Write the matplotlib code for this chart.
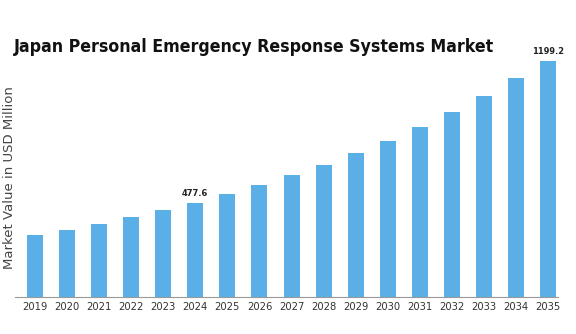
import matplotlib
matplotlib.use("Agg")
import matplotlib.pyplot as plt

# Data
years = ['2019', '2020', '2021', '2022', '2023', '2024', '2025', '2026', '2027',
         '2028', '2029', '2030', '2031', '2032', '2033', '2034', '2035']
values = [315, 340, 371, 406, 442, 477.6, 523, 569, 620,
          671, 732, 793, 864, 940, 1021, 1113, 1199.2]
labelled = {'2024': '477.6', '2035': '1199.2'}

bar_color = '#5ab0e6'

fig = plt.figure(figsize=(5.76, 3.34), dpi=100)
ax = fig.add_axes([0.026, 0.111, 0.943, 0.769])

x = list(range(len(years)))
ax.bar(x, values, width=0.5, color=bar_color)

for i, (yr, v) in enumerate(zip(years, values)):
    if yr in labelled:
        ax.text(i, v + 25, labelled[yr], ha='center', va='bottom', fontsize=6.7,
                fontweight='bold', fontstretch='condensed', color='#222222')

ax.set_xlim(-0.62, 16.31)
ax.set_ylim(0, 1305)
ax.set_xticks(x)
ax.set_xticklabels(years, fontsize=8, fontstretch='condensed', color='#333333')
ax.tick_params(axis='x', length=0, pad=4)
ax.set_yticks([])

for s in ['top', 'right', 'left']:
    ax.spines[s].set_visible(False)
ax.spines['bottom'].set_color('#999999')
ax.spines['bottom'].set_linewidth(0.8)

fig.text(0.016, 0.467, "Market Value in USD Million", rotation=90, ha='center', va='center',
         fontsize=9.5, color='#444444')

fig.text(0.024, 0.86, "Japan Personal Emergency Response Systems Market", ha='left', va='center',
         fontsize=12.7, fontweight='bold', fontstretch='condensed', color='#111111')

fig.savefig("out.png", dpi=100)
